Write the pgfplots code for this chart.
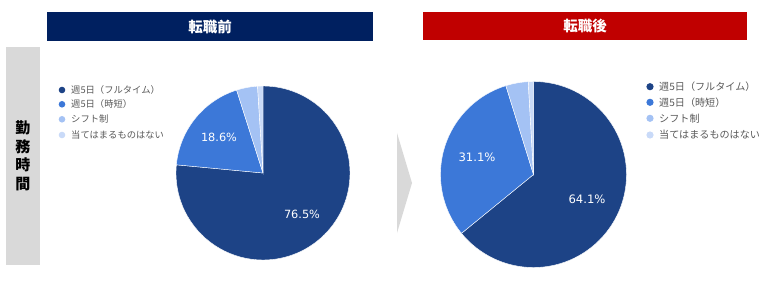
\documentclass[border=0pt]{standalone}
\usepackage{pgfplots}
\pgfplotsset{compat=1.18}
\usepackage{fontspec}
\setmainfont{Noto Sans CJK JP}
\newfontfamily\numfont{DejaVu Sans}
\definecolor{cFull}{HTML}{1D4386}
\definecolor{cShort}{HTML}{3C78D8}
\definecolor{cShift}{HTML}{A4C2F4}
\definecolor{cNone}{HTML}{C9DAF8}
\definecolor{navy}{HTML}{002060}
\definecolor{redh}{HTML}{C00000}
\definecolor{grayb}{HTML}{D9D9D9}
\definecolor{legtxt}{HTML}{595959}
% data (percent)
\def\La{76.5}\def\Lb{18.6}\def\Lc{3.9}\def\Ld{1.0}
\def\Ra{64.1}\def\Rb{31.1}\def\Rc{3.9}\def\Rd{0.9}
\pgfmathsetmacro\LaA{90-3.6*\La}
\pgfmathsetmacro\LbA{\LaA-3.6*\Lb}
\pgfmathsetmacro\LcA{\LbA-3.6*\Lc}
\pgfmathsetmacro\LdA{\LcA-3.6*\Ld}
\pgfmathsetmacro\RaA{90-3.6*\Ra}
\pgfmathsetmacro\RbA{\RaA-3.6*\Rb}
\pgfmathsetmacro\RcA{\RbA-3.6*\Rc}
\pgfmathsetmacro\RdA{\RcA-3.6*\Rd}
\begin{document}
\begin{tikzpicture}
\begin{axis}[
  at={(0,0)}, anchor=south west,
  width=761pt, height=286pt, scale only axis,
  xmin=0, xmax=761, ymin=0, ymax=286, y dir=reverse,
  hide axis, clip=false]
% headers
\fill[navy] (axis cs:47,12) rectangle (axis cs:373,41);
\node[text=white, font=\fontsize{14.5}{16}\selectfont\bfseries] at (axis cs:210,26.5) {転職前};
\fill[redh] (axis cs:423,12) rectangle (axis cs:747,40);
\node[text=white, font=\fontsize{14.5}{16}\selectfont\bfseries] at (axis cs:585,26) {転職後};
% side bar
\fill[grayb] (axis cs:6,47) rectangle (axis cs:40,265);
\node[align=center, font=\fontsize{15}{18.5}\selectfont\bfseries, text=black] at (axis cs:23,156) {勤\\務\\時\\間};
% arrow
\fill[grayb] (axis cs:397,133) -- (axis cs:412,183) -- (axis cs:397,233) -- cycle;
% left pie
\filldraw[cFull, draw=white, line width=0.4pt] (axis cs:263,173) -- ++(90:87pt) arc[start angle=90, end angle=\LaA, radius=87pt] -- cycle;
\filldraw[cShort, draw=white, line width=0.4pt] (axis cs:263,173) -- ++(\LaA:87pt) arc[start angle=\LaA, end angle=\LbA, radius=87pt] -- cycle;
\filldraw[cShift, draw=white, line width=0.4pt] (axis cs:263,173) -- ++(\LbA:87pt) arc[start angle=\LbA, end angle=\LcA, radius=87pt] -- cycle;
\filldraw[cNone, draw=white, line width=0.4pt] (axis cs:263,173) -- ++(\LcA:87pt) arc[start angle=\LcA, end angle=\LdA, radius=87pt] -- cycle;
\node[text=white, font=\numfont\fontsize{11.3}{13}\selectfont] at (axis cs:219,137) {18.6\%};
\node[text=white, font=\numfont\fontsize{11.3}{13}\selectfont] at (axis cs:302,214) {76.5\%};
% right pie
\filldraw[cFull, draw=white, line width=0.4pt] (axis cs:533.5,174.5) -- ++(90:93pt) arc[start angle=90, end angle=\RaA, radius=93pt] -- cycle;
\filldraw[cShort, draw=white, line width=0.4pt] (axis cs:533.5,174.5) -- ++(\RaA:93pt) arc[start angle=\RaA, end angle=\RbA, radius=93pt] -- cycle;
\filldraw[cShift, draw=white, line width=0.4pt] (axis cs:533.5,174.5) -- ++(\RbA:93pt) arc[start angle=\RbA, end angle=\RcA, radius=93pt] -- cycle;
\filldraw[cNone, draw=white, line width=0.4pt] (axis cs:533.5,174.5) -- ++(\RcA:93pt) arc[start angle=\RcA, end angle=\RdA, radius=93pt] -- cycle;
\node[text=white, font=\numfont\fontsize{11.6}{13}\selectfont] at (axis cs:477,157) {31.1\%};
\node[text=white, font=\numfont\fontsize{11.6}{13}\selectfont] at (axis cs:587,199) {64.1\%};
% left legend
\fill[cFull] (axis cs:62,90) circle[radius=3.3pt];
\fill[cShort] (axis cs:62,104.3) circle[radius=3.3pt];
\fill[cShift] (axis cs:62,119.3) circle[radius=3.3pt];
\fill[cNone] (axis cs:62,135) circle[radius=3.3pt];
\begin{scope}[every node/.style={anchor=west, inner sep=0pt, text=legtxt, font=\fontsize{9.3}{10}\selectfont}]
\node at (axis cs:71,90) {週5日（フルタイム）};
\node at (axis cs:71,104.3) {週5日（時短）};
\node at (axis cs:71,119.3) {シフト制};
\node at (axis cs:71,135) {当てはまるものはない};
\end{scope}
% right legend
\fill[cFull] (axis cs:650,86.7) circle[radius=3.6pt];
\fill[cShort] (axis cs:650,102.3) circle[radius=3.6pt];
\fill[cShift] (axis cs:650,118.3) circle[radius=3.6pt];
\fill[cNone] (axis cs:650,135) circle[radius=3.6pt];
\begin{scope}[every node/.style={anchor=west, inner sep=0pt, text=legtxt, font=\fontsize{10.1}{11}\selectfont}]
\node at (axis cs:659,86.7) {週5日（フルタイム）};
\node at (axis cs:659,102.3) {週5日（時短）};
\node at (axis cs:659,118.3) {シフト制};
\node at (axis cs:659,135) {当てはまるものはない};
\end{scope}
\end{axis}
\pgfresetboundingbox
\path (0,0) rectangle (761pt,286pt);
\end{tikzpicture}
\end{document}
